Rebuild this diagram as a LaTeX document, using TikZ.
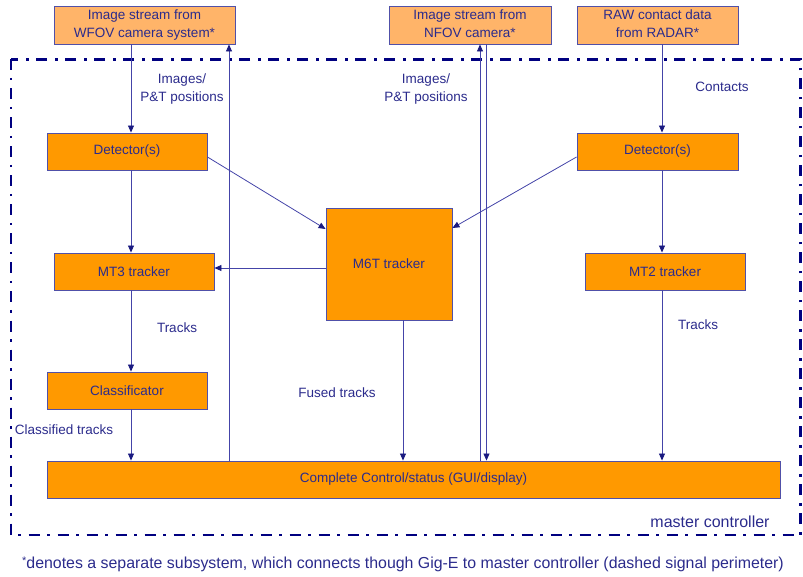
\documentclass[tikz,border=0pt]{standalone}
\usepackage{fontspec}
\setmainfont{Liberation Sans}
\usetikzlibrary{arrows.meta}
\definecolor{boxfill}{HTML}{FF9900}
\definecolor{topfill}{HTML}{FFB469}
\definecolor{boxline}{HTML}{5050A8}
\definecolor{txt}{HTML}{2B2B8C}
\definecolor{linec}{HTML}{4444A8}
\definecolor{tipc}{HTML}{1A1A80}
\definecolor{perimc}{HTML}{000080}
\begin{document}
\begin{tikzpicture}[x=1pt,y=-1pt,
  box/.style={draw=boxline, line width=0.9pt, fill=boxfill, text=txt, inner sep=0pt,
    font=\fontsize{13.5}{18}\selectfont, align=center},
  topbox/.style={box, fill=topfill},
  lbl/.style={text=txt, font=\fontsize{13.5}{18}\selectfont, align=center, inner sep=0pt},
  arr/.style={draw=linec, line width=0.8pt, -{Triangle[length=7pt,width=6pt,color=tipc]}},
  perim/.style={draw=perimc, line width=2.4pt, dash pattern=on 11pt off 7.5pt on 2.5pt off 8pt}
]
\useasboundingbox (0,0) rectangle (803,577);
% perimeter
\draw[perim] (11,59.5) rectangle (800.5,535);
% top boxes
\node[topbox, minimum width=181pt, minimum height=38pt] (wfov) at (144.5,25) {Image stream from\\WFOV camera system*\\[-16pt]\mbox{}};
\node[topbox, minimum width=162pt, minimum height=38pt] (nfov) at (470,25) {Image stream from\\NFOV camera*\\[-16pt]\mbox{}};
\node[topbox, minimum width=161pt, minimum height=38pt] (radar) at (657.5,25) {RAW contact data\\from RADAR*\\[-16pt]\mbox{}};
% main boxes
\node[box, minimum width=160pt, minimum height=37pt] (detl) at (127,151.5) {Detector(s)};
\node[box, minimum width=161pt, minimum height=37pt] (detr) at (657.5,151.5) {Detector(s)};
\node[box, minimum width=126pt, minimum height=112pt] (m6t) at (389,264) {M6T tracker};
\node[box, minimum width=160pt, minimum height=37pt] (mt3) at (134,271.5) {MT3 tracker};
\node[box, minimum width=160pt, minimum height=37pt] (mt2) at (665,271.5) {MT2 tracker};
\node[box, minimum width=160pt, minimum height=37pt] (cls) at (127,390.5) {Classificator};
\node[box, minimum width=733pt, minimum height=37pt] (ctrl) at (413.5,479.5) {Complete Control/status (GUI/display)};
% x positions of connectors
\coordinate (xa) at (131,0);
\coordinate (xb) at (229,0);
\coordinate (xc) at (480,0);
\coordinate (xd) at (486.5,0);
\coordinate (xe) at (662,0);
\coordinate (xf) at (403,0);
\coordinate (ya) at (0,268);
% connectors
\draw[arr] (wfov.south -| xa) -- (detl.north -| xa);
\draw[arr] (ctrl.north -| xb) -- (wfov.south -| xb);
\draw[arr] (ctrl.north -| xc) -- (nfov.south -| xc);
\draw[arr] (nfov.south -| xd) -- (ctrl.north -| xd);
\draw[arr] (radar.south -| xe) -- (detr.north -| xe);
\draw[arr] (detl.south -| xa) -- (mt3.north -| xa);
\draw[arr] (detr.south -| xe) -- (mt2.north -| xe);
\draw[arr] ([yshift=-5.5pt]detl.east) -- ([yshift=35pt]m6t.west);
\draw[arr] ([yshift=-5.5pt]detr.west) -- ([yshift=36pt]m6t.east);
\draw[arr] (m6t.west |- ya) -- (mt3.east |- ya);
\draw[arr] (mt3.south -| xa) -- (cls.north -| xa);
\draw[arr] (cls.south -| xa) -- (ctrl.north -| xa);
\draw[arr] (m6t.south -| xf) -- (ctrl.north -| xf);
\draw[arr] (mt2.south -| xe) -- (ctrl.north -| xe);
% labels
\node[lbl] (l1) at (182,89) {Images/\\P\&T positions};
\node[lbl] (l2) at (426,89) {Images/\\P\&T positions};
\node[lbl] (l3) at (722,87) {Contacts};
\node[lbl] (l4) at (177,328) {Tracks};
\node[lbl] (l5) at (698,325) {Tracks};
\node[lbl] (l6) at (337,393) {Fused tracks};
\node[lbl] (l7) at (64,430) {Classified tracks};
\node[lbl, font=\fontsize{16}{18}\selectfont] (mc) at (710,522) {master controller};
\node[lbl, font=\fontsize{15.9}{18}\selectfont] (fn) at (403,564) {\raisebox{0.5ex}{\fontsize{11}{12}\selectfont *}denotes a separate subsystem, which connects though Gig-E to master controller (dashed signal perimeter)};
\end{tikzpicture}
\end{document}
